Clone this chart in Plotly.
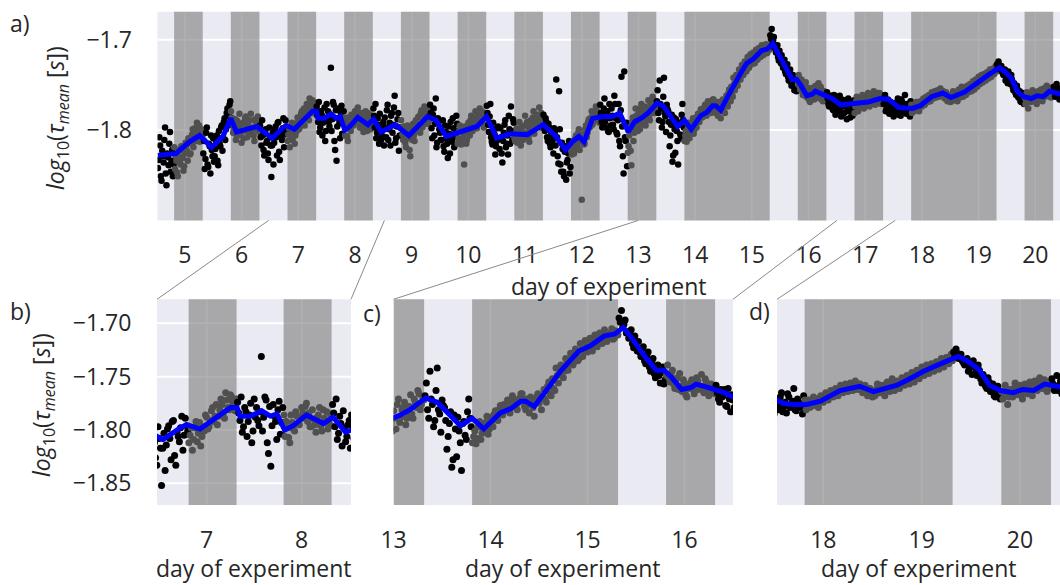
import plotly.graph_objects as go

W, H = 1060, 585
STEP = 0.025  # sampling interval of each recording channel, in days

# log10(tau_mean) samples, channel A; one list per experimental day d, covering d-0.475 ... d+0.5
day05 = [-1.842, -1.808, -1.851, -1.823, -1.836, -1.797, -1.861, -1.830, -1.815, -1.846, -1.822, -1.838,
         -1.843, -1.834, -1.851, -1.829, -1.838, -1.822, -1.845, -1.826, -1.817, -1.834,
         -1.812, -1.826, -1.805, -1.819, -1.798, -1.811, -1.803, -1.795, -1.808, -1.801,
         -1.826, -1.843, -1.803, -1.838, -1.815, -1.848, -1.822, -1.809]
day06 = [-1.829, -1.812, -1.834, -1.801, -1.818, -1.795, -1.808, -1.787, -1.799, -1.776, -1.784, -1.768,
         -1.786, -1.803, -1.795, -1.811, -1.790, -1.806, -1.798, -1.814, -1.792, -1.801,
         -1.785, -1.808, -1.796, -1.789, -1.804, -1.797, -1.812, -1.791, -1.800, -1.794,
         -1.795, -1.817, -1.806, -1.828, -1.799, -1.812, -1.833, -1.808]
day07 = [-1.852, -1.803, -1.814, -1.796, -1.828, -1.791, -1.833, -1.806, -1.798, -1.819, -1.789, -1.801,
         -1.805, -1.819, -1.798, -1.811, -1.793, -1.806, -1.801, -1.788, -1.797, -1.782,
         -1.792, -1.776, -1.787, -1.771, -1.784, -1.765, -1.779, -1.767, -1.774, -1.782,
         -1.774, -1.791, -1.802, -1.779, -1.806, -1.786, -1.812, -1.771]
day08 = [-1.779, -1.796, -1.731, -1.788, -1.772, -1.822, -1.834, -1.776, -1.792, -1.781, -1.804, -1.779,
         -1.806, -1.798, -1.812, -1.793, -1.801, -1.787, -1.795, -1.779, -1.789, -1.775,
         -1.784, -1.797, -1.790, -1.802, -1.786, -1.796, -1.781, -1.793, -1.799, -1.785,
         -1.776, -1.797, -1.809, -1.787, -1.815, -1.798, -1.806, -1.791]
day09 = [-1.786, -1.808, -1.772, -1.799, -1.817, -1.781, -1.794, -1.762, -1.809, -1.788, -1.823, -1.797,
         -1.798, -1.811, -1.804, -1.819, -1.795, -1.808, -1.829, -1.801, -1.793, -1.812,
         -1.789, -1.798, -1.785, -1.803, -1.778, -1.791, -1.774, -1.787, -1.781, -1.792,
         -1.772, -1.798, -1.783, -1.806, -1.765, -1.814, -1.791, -1.803]
day10 = [-1.811, -1.789, -1.824, -1.802, -1.815, -1.796, -1.826, -1.808, -1.787, -1.819, -1.801, -1.793,
         -1.809, -1.795, -1.816, -1.802, -1.838, -1.799, -1.811, -1.792, -1.806, -1.784,
         -1.801, -1.793, -1.779, -1.798, -1.786, -1.776, -1.791, -1.781, -1.797, -1.787,
         -1.773, -1.794, -1.785, -1.808, -1.816, -1.799, -1.827, -1.812]
day11 = [-1.796, -1.821, -1.808, -1.836, -1.803, -1.789, -1.815, -1.827, -1.799, -1.774, -1.811, -1.792,
         -1.812, -1.798, -1.806, -1.791, -1.817, -1.802, -1.809, -1.784, -1.803, -1.796,
         -1.813, -1.789, -1.801, -1.779, -1.798, -1.786, -1.792, -1.775, -1.797, -1.787,
         -1.783, -1.801, -1.791, -1.812, -1.797, -1.819, -1.806, -1.826]
day12 = [-1.802, -1.744, -1.829, -1.757, -1.838, -1.814, -1.846, -1.824, -1.855, -1.833, -1.812, -1.841,
         -1.827, -1.813, -1.821, -1.806, -1.818, -1.799, -1.812, -1.877, -1.808, -1.815,
         -1.795, -1.803, -1.788, -1.796, -1.779, -1.792, -1.783, -1.774, -1.789, -1.781,
         -1.772, -1.791, -1.783, -1.765, -1.797, -1.779, -1.802, -1.787]
day13 = [-1.776, -1.794, -1.762, -1.787, -1.805, -1.771, -1.818, -1.741, -1.829, -1.735, -1.812, -1.840,
         -1.818, -1.797, -1.839, -1.786, -1.803, -1.776, -1.794, -1.782, -1.799, -1.771,
         -1.788, -1.779, -1.795, -1.784, -1.767, -1.789, -1.774, -1.763, -1.781, -1.769,
         -1.768, -1.781, -1.745, -1.776, -1.791, -1.742, -1.785, -1.772]
day14 = [-1.779, -1.818, -1.794, -1.835, -1.786, -1.825, -1.801, -1.838, -1.792, -1.809, -1.771, -1.797,
         -1.806, -1.813, -1.797, -1.809, -1.801, -1.793, -1.804, -1.788, -1.797, -1.782,
         -1.791, -1.777, -1.786, -1.779, -1.772, -1.784, -1.768, -1.776, -1.781, -1.770,
         -1.766, -1.778, -1.771, -1.784, -1.773, -1.787, -1.769, -1.775]
day15 = [-1.781, -1.762, -1.774, -1.755, -1.768, -1.761, -1.742, -1.756, -1.739, -1.751, -1.733, -1.744,
         -1.728, -1.739, -1.724, -1.735, -1.719, -1.731, -1.716, -1.727, -1.714, -1.726,
         -1.711, -1.722, -1.709, -1.719, -1.706, -1.717, -1.712, -1.705, -1.714, -1.708,
         -1.695, -1.688, -1.701, -1.709, -1.714, -1.706, -1.723, -1.717]
day16 = [-1.717, -1.731, -1.722, -1.738, -1.727, -1.745, -1.733, -1.751, -1.739, -1.756, -1.741, -1.753,
         -1.739, -1.755, -1.744, -1.761, -1.751, -1.747, -1.764, -1.756, -1.769, -1.758,
         -1.753, -1.766, -1.751, -1.762, -1.748, -1.765, -1.755, -1.768, -1.757, -1.763,
         -1.758, -1.771, -1.762, -1.768, -1.777, -1.761, -1.783, -1.772]
day17 = [-1.778, -1.762, -1.785, -1.769, -1.781, -1.773, -1.788, -1.765, -1.779, -1.771, -1.784, -1.767,
         -1.774, -1.763, -1.779, -1.768, -1.772, -1.761, -1.776, -1.766, -1.771, -1.759,
         -1.774, -1.764, -1.769, -1.757, -1.772, -1.762, -1.767, -1.759, -1.771, -1.763,
         -1.771, -1.761, -1.776, -1.766, -1.782, -1.769, -1.774, -1.785]
day18 = [-1.772, -1.781, -1.765, -1.778, -1.784, -1.769, -1.777, -1.761, -1.782, -1.774, -1.779, -1.768,
         -1.781, -1.772, -1.778, -1.769, -1.777, -1.779, -1.768, -1.774, -1.765, -1.772,
         -1.763, -1.769, -1.761, -1.768, -1.758, -1.765, -1.757, -1.764, -1.756, -1.763,
         -1.754, -1.762, -1.757, -1.765, -1.758, -1.768, -1.761, -1.769]
day19 = [-1.768, -1.757, -1.765, -1.759, -1.768, -1.755, -1.764, -1.752, -1.763, -1.754, -1.761, -1.751,
         -1.758, -1.749, -1.757, -1.746, -1.755, -1.744, -1.752, -1.741, -1.749, -1.739,
         -1.747, -1.738, -1.745, -1.736, -1.743, -1.733, -1.741, -1.732, -1.738, -1.729,
         -1.727, -1.724, -1.733, -1.729, -1.737, -1.735, -1.745, -1.741]
day20 = [-1.735, -1.746, -1.739, -1.752, -1.748, -1.759, -1.751, -1.764, -1.757, -1.769, -1.759, -1.771,
         -1.771, -1.758, -1.776, -1.762, -1.769, -1.756, -1.767, -1.758, -1.771, -1.757,
         -1.766, -1.755, -1.768, -1.754, -1.763, -1.751, -1.761, -1.753, -1.764, -1.755,
         -1.752, -1.763, -1.749, -1.758, -1.766, -1.754, -1.761, -1.757]

# channel B, sampled half a step later (d-0.4625 ... d+0.5125)
day05b = [-1.833, -1.817, -1.856, -1.829, -1.811, -1.848, -1.826, -1.839, -1.802, -1.834, -1.851, -1.819,
          -1.829, -1.847, -1.822, -1.836, -1.818, -1.831, -1.840, -1.814, -1.823, -1.809,
          -1.827, -1.815, -1.799, -1.813, -1.807, -1.792, -1.804, -1.813, -1.799, -1.806,
          -1.812, -1.832, -1.797, -1.841, -1.818, -1.806, -1.829, -1.835]
day06b = [-1.821, -1.806, -1.839, -1.815, -1.797, -1.823, -1.791, -1.811, -1.781, -1.795, -1.772, -1.779,
          -1.793, -1.799, -1.788, -1.806, -1.796, -1.782, -1.803, -1.793, -1.809, -1.787,
          -1.798, -1.791, -1.803, -1.782, -1.799, -1.806, -1.788, -1.797, -1.785, -1.802,
          -1.808, -1.789, -1.822, -1.801, -1.814, -1.826, -1.797, -1.817]
day07b = [-1.817, -1.838, -1.799, -1.808, -1.792, -1.824, -1.802, -1.811, -1.787, -1.805, -1.796, -1.812,
          -1.798, -1.809, -1.792, -1.803, -1.815, -1.797, -1.786, -1.799, -1.791, -1.779,
          -1.787, -1.795, -1.781, -1.776, -1.789, -1.772, -1.781, -1.769, -1.777, -1.771,
          -1.784, -1.769, -1.797, -1.783, -1.792, -1.775, -1.801, -1.788]
day08b = [-1.791, -1.783, -1.801, -1.769, -1.812, -1.778, -1.796, -1.787, -1.809, -1.773, -1.793, -1.786,
          -1.792, -1.807, -1.786, -1.799, -1.783, -1.794, -1.788, -1.784, -1.778, -1.792,
          -1.797, -1.781, -1.795, -1.788, -1.779, -1.801, -1.789, -1.783, -1.792, -1.796,
          -1.784, -1.771, -1.803, -1.794, -1.782, -1.811, -1.795, -1.817]
day09b = [-1.797, -1.778, -1.811, -1.792, -1.784, -1.803, -1.775, -1.814, -1.796, -1.781, -1.806, -1.789,
          -1.805, -1.796, -1.814, -1.801, -1.809, -1.822, -1.799, -1.811, -1.806, -1.794,
          -1.801, -1.786, -1.795, -1.781, -1.797, -1.784, -1.779, -1.793, -1.776, -1.788,
          -1.781, -1.809, -1.776, -1.793, -1.819, -1.787, -1.799, -1.811]
day10b = [-1.802, -1.818, -1.795, -1.809, -1.831, -1.804, -1.791, -1.813, -1.798, -1.808, -1.784, -1.815,
          -1.801, -1.812, -1.798, -1.808, -1.796, -1.815, -1.803, -1.797, -1.789, -1.799,
          -1.793, -1.787, -1.794, -1.783, -1.791, -1.784, -1.779, -1.794, -1.786, -1.782,
          -1.781, -1.802, -1.771, -1.813, -1.792, -1.805, -1.818, -1.798]
day11b = [-1.809, -1.798, -1.826, -1.812, -1.794, -1.819, -1.806, -1.784, -1.815, -1.801, -1.788, -1.809,
          -1.803, -1.814, -1.799, -1.809, -1.797, -1.811, -1.795, -1.806, -1.791, -1.808,
          -1.799, -1.793, -1.786, -1.804, -1.791, -1.783, -1.794, -1.788, -1.781, -1.792,
          -1.798, -1.787, -1.808, -1.793, -1.815, -1.803, -1.811, -1.798]
day12b = [-1.817, -1.808, -1.837, -1.799, -1.846, -1.821, -1.851, -1.818, -1.836, -1.826, -1.848, -1.823,
          -1.818, -1.826, -1.809, -1.815, -1.803, -1.822, -1.811, -1.805, -1.816, -1.799,
          -1.808, -1.791, -1.797, -1.786, -1.794, -1.781, -1.789, -1.778, -1.786, -1.792,
          -1.781, -1.797, -1.776, -1.791, -1.785, -1.801, -1.771, -1.795]
day13b = [-1.784, -1.799, -1.771, -1.803, -1.789, -1.812, -1.778, -1.796, -1.848, -1.808, -1.792, -1.825,
          -1.806, -1.823, -1.791, -1.812, -1.797, -1.784, -1.801, -1.789, -1.776, -1.793,
          -1.781, -1.774, -1.789, -1.778, -1.785, -1.771, -1.779, -1.766, -1.776, -1.772,
          -1.756, -1.789, -1.771, -1.797, -1.763, -1.781, -1.802, -1.777]
day14b = [-1.791, -1.806, -1.783, -1.828, -1.799, -1.788, -1.812, -1.794, -1.805, -1.783, -1.789, -1.812,
          -1.801, -1.808, -1.792, -1.803, -1.796, -1.787, -1.799, -1.792, -1.785, -1.789,
          -1.781, -1.785, -1.776, -1.782, -1.774, -1.779, -1.771, -1.777, -1.774, -1.766,
          -1.772, -1.781, -1.776, -1.769, -1.779, -1.774, -1.766, -1.771]
day15b = [-1.769, -1.771, -1.759, -1.766, -1.752, -1.763, -1.749, -1.747, -1.743, -1.745, -1.737, -1.738,
          -1.732, -1.736, -1.728, -1.733, -1.725, -1.727, -1.722, -1.724, -1.719, -1.722,
          -1.716, -1.718, -1.713, -1.716, -1.711, -1.713, -1.709, -1.715, -1.707, -1.711,
          -1.699, -1.704, -1.697, -1.708, -1.711, -1.719, -1.712, -1.726]
day16b = [-1.727, -1.724, -1.735, -1.731, -1.741, -1.736, -1.747, -1.742, -1.749, -1.746, -1.757, -1.749,
          -1.751, -1.747, -1.757, -1.753, -1.762, -1.759, -1.753, -1.767, -1.761, -1.756,
          -1.762, -1.757, -1.754, -1.761, -1.759, -1.752, -1.761, -1.765, -1.759, -1.766,
          -1.765, -1.774, -1.769, -1.762, -1.778, -1.771, -1.767, -1.779]
day17b = [-1.769, -1.775, -1.766, -1.782, -1.774, -1.767, -1.779, -1.772, -1.786, -1.769, -1.776, -1.781,
          -1.768, -1.771, -1.766, -1.773, -1.765, -1.769, -1.772, -1.763, -1.768, -1.765,
          -1.761, -1.767, -1.762, -1.765, -1.768, -1.759, -1.764, -1.767, -1.761, -1.768,
          -1.764, -1.779, -1.768, -1.773, -1.779, -1.771, -1.781, -1.777]
day18b = [-1.776, -1.769, -1.783, -1.774, -1.766, -1.779, -1.773, -1.781, -1.771, -1.777, -1.785, -1.772,
          -1.775, -1.779, -1.773, -1.776, -1.771, -1.774, -1.772, -1.769, -1.771, -1.767,
          -1.768, -1.765, -1.766, -1.762, -1.764, -1.761, -1.763, -1.759, -1.761, -1.758,
          -1.761, -1.757, -1.762, -1.759, -1.764, -1.761, -1.765, -1.763]
day19b = [-1.762, -1.765, -1.758, -1.762, -1.757, -1.763, -1.759, -1.757, -1.759, -1.755, -1.757, -1.754,
          -1.753, -1.756, -1.751, -1.752, -1.748, -1.751, -1.746, -1.748, -1.744, -1.746,
          -1.741, -1.744, -1.739, -1.741, -1.737, -1.739, -1.735, -1.737, -1.733, -1.735,
          -1.731, -1.728, -1.732, -1.735, -1.739, -1.733, -1.742, -1.748]
day20b = [-1.741, -1.749, -1.744, -1.756, -1.753, -1.761, -1.755, -1.762, -1.768, -1.763, -1.767, -1.764,
          -1.766, -1.762, -1.769, -1.765, -1.761, -1.764, -1.762, -1.767, -1.761, -1.764,
          -1.759, -1.762, -1.758, -1.761, -1.757, -1.759, -1.756, -1.758, -1.761, -1.759,
          -1.757, -1.759, -1.763, -1.754, -1.761, -1.758, -1.764, -1.756]

row_days = list(range(5, 21))
rows_a = [day05, day06, day07, day08, day09, day10, day11, day12,
          day13, day14, day15, day16, day17, day18, day19, day20]
rows_b = [day05b, day06b, day07b, day08b, day09b, day10b, day11b, day12b,
          day13b, day14b, day15b, day16b, day17b, day18b, day19b, day20b]

# running mean of log10(tau_mean)
mean_days = [4.52, 4.84, 5.08, 5.26, 5.47, 5.67, 5.81, 5.91, 6.27, 6.54, 6.72, 6.79, 6.93, 7.07,
             7.25, 7.32, 7.35, 7.46, 7.58, 7.67, 7.74, 7.82, 7.91, 8.05, 8.23, 8.33, 8.46, 8.71,
             8.95, 9.28, 9.43, 9.61, 9.85, 10.15, 10.32, 10.50, 10.74, 11.04, 11.32, 11.53, 11.71,
             11.85, 11.95, 12.04, 12.19, 12.37, 12.55, 12.67, 12.82, 12.93, 13.07, 13.17, 13.33,
             13.45, 13.59, 13.69, 13.76, 13.81, 13.93, 14.10, 14.21, 14.31, 14.36, 14.45, 14.59,
             14.72, 14.83, 14.91, 15.03, 15.17, 15.28, 15.37, 15.45, 15.59, 15.71, 15.79, 15.86,
             15.97, 16.07, 16.12, 16.24, 16.41, 16.57, 16.81, 17.05, 17.26, 17.41, 17.59, 17.69,
             17.83, 17.97, 18.07, 18.17, 18.27, 18.37, 18.51, 18.64, 18.75, 18.88, 19.02, 19.19,
             19.29, 19.37, 19.46, 19.58, 19.69, 19.80, 19.93, 20.03, 20.14, 20.25, 20.44]
mean_vals = [-1.828, -1.826, -1.813, -1.806, -1.819, -1.807, -1.787, -1.802, -1.796, -1.809, -1.798,
             -1.795, -1.799, -1.790, -1.779, -1.779, -1.787, -1.787, -1.782, -1.787, -1.785, -1.800,
             -1.796, -1.786, -1.794, -1.788, -1.802, -1.794, -1.806, -1.785, -1.789, -1.807, -1.802,
             -1.796, -1.785, -1.809, -1.804, -1.805, -1.794, -1.806, -1.822, -1.812, -1.807, -1.813,
             -1.787, -1.785, -1.785, -1.781, -1.802, -1.791, -1.786, -1.781, -1.770, -1.774, -1.787,
             -1.796, -1.792, -1.789, -1.799, -1.784, -1.780, -1.773, -1.773, -1.778, -1.761, -1.745,
             -1.734, -1.726, -1.721, -1.712, -1.710, -1.704, -1.713, -1.731, -1.744, -1.744, -1.750,
             -1.762, -1.760, -1.757, -1.760, -1.765, -1.772, -1.771, -1.769, -1.765, -1.766, -1.775,
             -1.776, -1.776, -1.773, -1.768, -1.763, -1.761, -1.759, -1.764, -1.761, -1.758, -1.752,
             -1.745, -1.738, -1.734, -1.731, -1.735, -1.743, -1.758, -1.763, -1.765, -1.762, -1.763,
             -1.757, -1.760]

# dark phases (lights off), in days of experiment
night_start = [4.81, 5.81, 6.81, 7.81, 8.81, 9.81, 10.81, 11.81, 12.81, 13.81, 15.81, 16.81, 17.81, 19.81]
night_end = [5.315, 6.315, 7.315, 8.315, 9.315, 10.315, 11.315, 12.315, 13.315, 15.315, 16.315,
             17.315, 19.315, 20.315]

# tick labels
ticks_a_x = list(range(5, 21))
ticks_a_y = [-1.8, -1.7]
ticks_b_x = [7, 8]
ticks_b_y = [-1.85, -1.80, -1.75, -1.70]
ticks_c_x = [13, 14, 15, 16]
ticks_d_x = [18, 19, 20]

# ---------------------------------------------------------------------------
samples = []
for offset, rows in ((-0.475, rows_a), (-0.4625, rows_b)):
    for d, row in zip(row_days, rows):
        for i, v in enumerate(row):
            samples.append((round(d + offset + i * STEP, 5), v))
samples.sort()
t = [s[0] for s in samples]
y = [s[1] for s in samples]


def in_night(x):
    return any(s <= x <= e for s, e in zip(night_start, night_end))


point_colors = ["#505050" if in_night(x) else "#000000" for x in t]

FONT = "Open Sans"
TXT = "#262626"
FS = 23
BG = "#EAEAF2"
BAND = "rgba(128,128,128,0.62)"


def fx(px):
    return px / W


def fy(py):
    return 1 - py / H


panels = [
    dict(k="", xpx=(157.5, 1060), ypx=(11.8, 220.4), xr=(4.517, 20.435), yr=(-1.9, -1.669),
         xt=ticks_a_x, yt=ticks_a_y, yfmt=".1f", ylab=True, ms=6.5),
    dict(k="2", xpx=(157, 351), ypx=(299.3, 505), xr=(6.477, 8.519), yr=(-1.8703, -1.6775),
         xt=ticks_b_x, yt=ticks_b_y, yfmt=".2f", ylab=True, ms=7),
    dict(k="3", xpx=(393.5, 733), ypx=(299.3, 505), xr=(12.999, 16.5), yr=(-1.8703, -1.6775),
         xt=ticks_c_x, yt=[], yfmt=".2f", ylab=False, ms=7),
    dict(k="4", xpx=(777, 1060), ypx=(299.3, 505), xr=(17.529, 20.407), yr=(-1.8703, -1.6775),
         xt=ticks_d_x, yt=[], yfmt=".2f", ylab=False, ms=7),
]

fig = go.Figure()
layout = dict(
    template="none",
    width=W, height=H, margin=dict(l=0, r=0, t=0, b=0, pad=0),
    paper_bgcolor="white", plot_bgcolor=BG, showlegend=False, hovermode=False,
    font=dict(family=FONT, size=FS, color=TXT),
)
shapes = []
annotations = []

for p in panels:
    k = p["k"]
    xn, yn = "x" + k, "y" + k
    layout["xaxis" + k] = dict(
        domain=[fx(p["xpx"][0]), fx(p["xpx"][1])], range=list(p["xr"]), anchor=yn,
        automargin=False, tickmode="array", tickvals=p["xt"], ticks="outside", ticklen=14,
        tickcolor="rgba(0,0,0,0)", showgrid=False,
        zeroline=False, showline=False, tickfont=dict(family=FONT, size=FS, color=TXT),
    )
    layout["yaxis" + k] = dict(
        domain=[fy(p["ypx"][1]), fy(p["ypx"][0])], range=list(p["yr"]), anchor=xn,
        automargin=False, tickmode="array", tickvals=p["yt"], tickformat=p["yfmt"],
        ticks="outside" if p["ylab"] else "", ticklen=20, tickcolor="rgba(0,0,0,0)",
        showticklabels=p["ylab"], showgrid=False,
        zeroline=False, showline=False, tickfont=dict(family=FONT, size=FS, color=TXT),
    )
    # white grid, drawn first so the dark-phase bands tint it
    for v in p["xt"]:
        if p["xr"][0] <= v <= p["xr"][1]:
            shapes.append(dict(type="line", xref=xn, yref=yn + " domain", x0=v, x1=v, y0=0, y1=1,
                               line=dict(color="white", width=1.5), layer="below"))
    for v in p["yt"]:
        shapes.append(dict(type="line", xref=xn + " domain", yref=yn, x0=0, x1=1, y0=v, y1=v,
                           line=dict(color="white", width=2), layer="below"))
    # dark phases
    for s, e in zip(night_start, night_end):
        x0, x1 = max(s, p["xr"][0]), min(e, p["xr"][1])
        if x0 >= x1:
            continue
        shapes.append(dict(type="rect", xref=xn, yref=yn + " domain", x0=x0, x1=x1, y0=0, y1=1,
                           fillcolor=BAND, line=dict(width=0), layer="below"))
    fig.add_trace(go.Scatter(x=t, y=y, mode="markers", xaxis=xn, yaxis=yn,
                             marker=dict(size=p["ms"], color=point_colors, line=dict(width=0))))
    fig.add_trace(go.Scatter(x=mean_days, y=mean_vals, mode="lines", xaxis=xn, yaxis=yn,
                             line=dict(color="#0000FF", width=5)))
    # x title
    annotations.append(dict(text="day of experiment", xref="paper", yref="paper",
                            x=fx((p["xpx"][0] + p["xpx"][1]) / 2),
                            y=fy(286 if k == "" else 568), xanchor="center", yanchor="middle",
                            showarrow=False, font=dict(size=FS, color=TXT, family=FONT)))

# zoom connectors from panel a to the lower panels
a = panels[0]


def a_paper_x(day):
    (p0, p1), (r0, r1) = a["xpx"], a["xr"]
    return fx(p0 + (day - r0) / (r1 - r0) * (p1 - p0))


for p in panels[1:]:
    for day, px in ((p["xr"][0], p["xpx"][0]), (p["xr"][1], p["xpx"][1])):
        if px >= W - 1:
            continue
        shapes.append(dict(type="line", xref="paper", yref="paper",
                           x0=a_paper_x(day), y0=fy(a["ypx"][1]), x1=fx(px), y1=fy(p["ypx"][0]),
                           line=dict(color="#8a8a8a", width=1)))

ylabel = "<i>log</i><sub>10</sub>(<i>τ</i><sub><i>mean</i></sub> [<i>s</i>])"
annotations.append(dict(text=ylabel, xref="paper", yref="paper", x=fx(57), y=fy(118),
                        textangle=-90, xanchor="center", yanchor="middle", showarrow=False,
                        font=dict(size=FS, color=TXT, family=FONT)))
annotations.append(dict(text=ylabel, xref="paper", yref="paper", x=fx(42), y=fy(405),
                        textangle=-90, xanchor="center", yanchor="middle", showarrow=False,
                        font=dict(size=FS, color=TXT, family=FONT)))

for lab, px, py in (("a)", 8, 23), ("b)", 8, 311), ("c)", 361, 313), ("d)", 747, 311)):
    annotations.append(dict(text=lab, xref="paper", yref="paper", x=fx(px), y=fy(py),
                            xanchor="left", yanchor="middle", showarrow=False,
                            font=dict(size=FS, color=TXT, family=FONT)))

layout["shapes"] = shapes
layout["annotations"] = annotations
fig.update_layout(**layout)
fig.write_html("out.html")
